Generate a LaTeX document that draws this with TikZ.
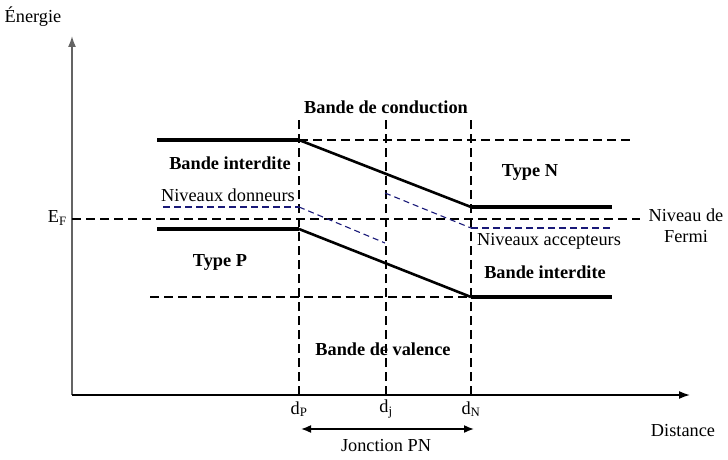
\documentclass[tikz,border=0pt]{standalone}
\usepackage{fontspec}
\setmainfont{Liberation Serif}
\usepackage{tikz}
\usetikzlibrary{arrows,arrows.meta}
\definecolor{Navy}{RGB}{25,25,120}
\definecolor{AxisGrey}{RGB}{100,100,100}
\tikzstyle{band} = [line width=4.4pt]
\tikzstyle{slope} = [line width=2.6pt]
\tikzstyle{guide} = [line width=2.2pt, dash pattern=on 9pt off 5pt]
\tikzstyle{level} = [draw=Navy, line width=2pt, dash pattern=on 7pt off 4pt]
\tikzstyle{levelslope} = [draw=Navy, line width=1.1pt, dash pattern=on 6pt off 4pt]
\tikzstyle{axis} = [draw, line width=1.6pt, -{Latex[length=11pt,width=8pt]}]
\tikzstyle{title} = [font=\fontsize{18.3}{21}\selectfont\bfseries, inner sep=0pt]
\tikzstyle{txt} = [inner sep=0pt]

\begin{document}
\begin{tikzpicture}[x=1pt, y=-1pt, font=\fontsize{18.3}{21}\selectfont]
    \useasboundingbox (0,0) rectangle (728,460);

    % axes
    \coordinate (O)    at (72,395);
    \coordinate (ytop) at (72,36);
    \coordinate (xend) at (690,395);
    \path [axis, draw=AxisGrey] (O) -- (ytop);
    \path [axis]   (O) -- (xend);
    \node (energie) [txt] at (33,17)  {Énergie};
    \node (dist)    [txt] at (683,431) {Distance};

    % positions on the distance axis
    \coordinate (dP) at (299,395);
    \coordinate (dj) at (386,395);
    \coordinate (dN) at (471,395);
    \node (ldP) [txt] at (299,409) {d\textsubscript{P}};
    \node (ldj) [txt] at (386,409) {d\textsubscript{j}};
    \node (ldN) [txt] at (471,409) {d\textsubscript{N}};

    % guide lines
    \draw [guide] (dP) -- ++(0,-278);
    \draw [guide] (dj) -- ++(0,-278);
    \draw [guide] (dN) -- ++(0,-278);
    \draw [guide] (299,140) -- (632,140);
    \draw [guide] (150,297) -- (471,297);
    \draw [guide] (O |- 0,219) -- (640,219);
    \node (EF) [txt, anchor=east] at (67,218) {E\textsubscript{F}};

    % conduction and valence band edges
    \draw [band]  (157,140) -- (299,140);
    \draw [slope] (299,140) -- (471,207);
    \draw [band]  (471,207) -- (612,207);
    \draw [band]  (157,229) -- (299,229);
    \draw [slope] (299,229) -- (471,297);
    \draw [band]  (471,297) -- (612,297);

    % donor and acceptor levels
    \draw [level]      (163,207) -- (299,207);
    \draw [levelslope] (299,207) -- (385,243);
    \draw [levelslope] (385,193) -- (471,228);
    \draw [level]      (471,228) -- (612,228);

    % labels
    \node (cond)   [title] at (386,107) {Bande de conduction};
    \node (gapP)   [title] at (230,163) {Bande interdite};
    \node (donn)   [txt]   at (228,195) {Niveaux donneurs};
    \node (typeP)  [title] at (220,262) {Type P};
    \node (typeN)  [title] at (530,172) {Type N};
    \node (accep)  [txt]   at (549,241) {Niveaux accepteurs};
    \node (gapN)   [title] at (545,272) {Bande interdite};
    \node (fermi)  [txt, align=center] at (686,226) {Niveau de\\Fermi};
    \node (val)    [title] at (383,349) {Bande de valence};

    % junction width
    \coordinate (jP) at (301,429);
    \coordinate (jN) at (474,429);
    \draw [line width=1.6pt, {Latex[length=10pt,width=8pt]}-{Latex[length=10pt,width=8pt]}] (jP) -- (jN);
    \node (jonc) [txt] at (386,446) {Jonction PN};
\end{tikzpicture}
\end{document}
